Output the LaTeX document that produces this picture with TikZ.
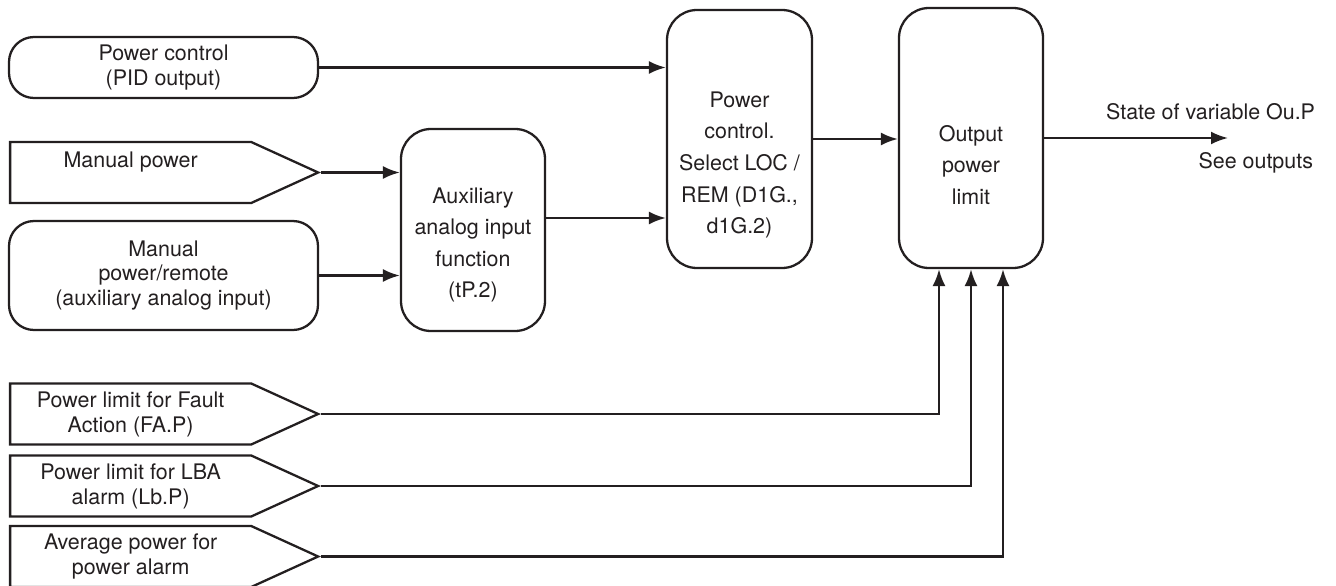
\documentclass[tikz,border=0pt]{standalone}
\usepackage{fontspec}
\setmainfont{TeX Gyre Heros}
\usetikzlibrary{arrows.meta,shapes.symbols}
\definecolor{myblack}{RGB}{35,31,32}

\begin{document}
\begin{tikzpicture}[line width=1.3pt, color=myblack]
	  \tikzstyle{every node} = [font=\fontsize{12.2}{14.2}\selectfont]
	  \tikzstyle{inbox} = [draw, rounded corners=0.5cm, minimum width=6.18cm, align=center]
	  \tikzstyle{inflag} = [draw, signal, signal to=east, signal pointer angle=49, minimum width=6.16cm, minimum height=1.22cm, inner sep=0pt, anchor=west, align=center]
	  \tikzstyle{blockbox} = [draw, rounded corners=0.6cm, minimum width=2.88cm]
	  \tikzstyle{blocktext} = [align=center, font=\fontsize{12.2}{18}\selectfont]
	  \tikzstyle{arr} = [-{Latex[length=0.34cm, width=0.26cm]}]
	  \useasboundingbox (0,0) rectangle (26.72,-11.72);
	  % inputs
	  \node (pid)[inbox, minimum height=1.22cm] at (3.27, -1.35) {Power control\\(PID output)};
	  \node (manual)[inflag] at (0.18, -3.45) {Manual power\\~};
	  \node (remote)[inbox, minimum height=2.18cm] at (3.27, -5.51) {Manual\\power/remote\\(auxiliary analog input)};
	  \node (fault)[inflag] at (0.18, -8.28) {Power limit for Fault\\Action (FA.P)};
	  \node (lba)[inflag] at (0.18, -9.72) {Power limit for LBA\\alarm (Lb.P)};
	  \node (avg)[inflag] at (0.18, -11.13) {Average power for\\power alarm};
	  % blocks
	  \node (aux)[blockbox, minimum height=4.04cm] at (9.46, -4.6) {};
	  \node (auxtxt)[blocktext] at (9.46, -4.9) {Auxiliary\\analog input\\function\\(tP.2)};
	  \node (pcsel)[blockbox, minimum width=2.9cm, minimum height=5.16cm] at (14.79, -2.78) {};
	  \node (pcseltxt)[blocktext] at (14.79, -3.3) {Power\\control.\\Select LOC /\\REM (D1G.,\\d1G.2)};
	  \node (out)[blockbox, minimum height=5.2cm] at (19.42, -2.76) {};
	  \node (outtxt)[blocktext] at (19.42, -3.3) {Output\\power\\limit};
	  % output
	  \coordinate (outp) at (24.56, -2.76);
	  \node (state)[anchor=east] at (26.44, -2.24) {State of variable Ou.P};
	  \node (seeout)[anchor=east] at (26.4, -3.26) {See outputs};
	  \draw[arr] (pid.east) -- (pid.east -| pcsel.west);
	  \draw[arr] (manual.east) -- (manual.east -| aux.west);
	  \draw[arr] (remote.east) -- (remote.east -| aux.west);
	  \draw[arr] ([yshift=0.24cm]aux.east) -- ([yshift=0.24cm]aux.east -| pcsel.west);
	  \draw[arr] (pcsel.east) -- (pcsel.east -| out.west);
	  \draw[arr] (out.east) -- (outp);
	  \draw[arr] (fault.east) -| ([xshift=-0.64cm]out.south);
	  \draw[arr] (lba.east) -| (out.south);
	  \draw[arr] (avg.east) -| ([xshift=0.64cm]out.south);
	\end{tikzpicture}
\end{document}
